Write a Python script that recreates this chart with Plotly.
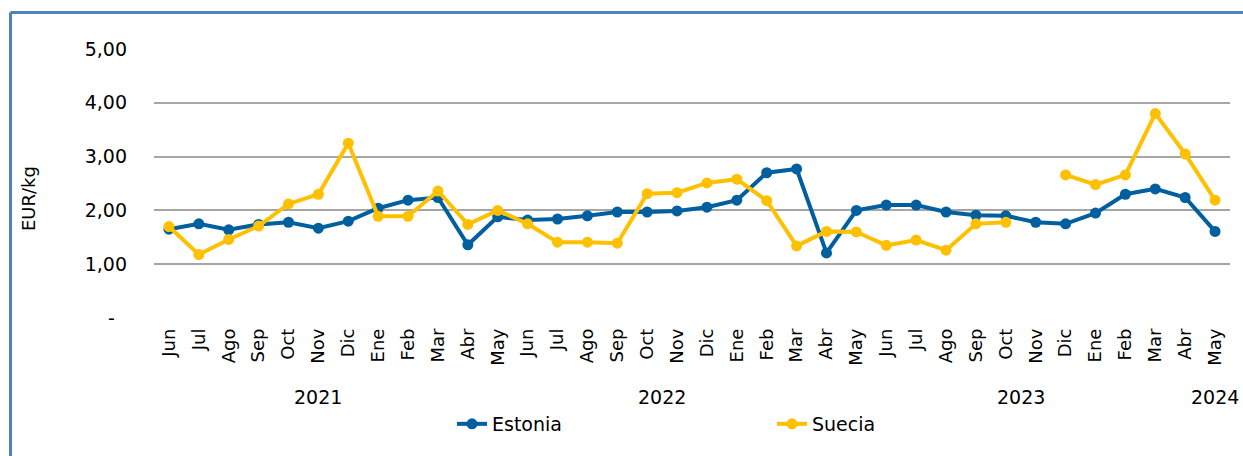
import plotly.graph_objects as go

# Monthly prices, Jun 2021 - May 2024 (EUR/kg)
months = ["Jun", "Jul", "Ago", "Sep", "Oct", "Nov", "Dic",
          "Ene", "Feb", "Mar", "Abr", "May", "Jun", "Jul", "Ago", "Sep", "Oct", "Nov", "Dic",
          "Ene", "Feb", "Mar", "Abr", "May", "Jun", "Jul", "Ago", "Sep", "Oct", "Nov", "Dic",
          "Ene", "Feb", "Mar", "Abr", "May"]

estonia = [1.65, 1.75, 1.64, 1.74, 1.78, 1.67, 1.80,
           2.04, 2.19, 2.24, 1.36, 1.88, 1.82, 1.84, 1.90, 1.97, 1.97, 1.99, 2.06,
           2.19, 2.70, 2.77, 1.21, 2.00, 2.10, 2.10, 1.97, 1.91, 1.90, 1.78, 1.75,
           1.95, 2.30, 2.40, 2.24, 1.61]

suecia = [1.70, 1.18, 1.46, 1.71, 2.12, 2.30, 3.25,
          1.89, 1.89, 2.36, 1.74, 2.00, 1.75, 1.41, 1.41, 1.39, 2.31, 2.33, 2.51,
          2.58, 2.18, 1.34, 1.61, 1.60, 1.35, 1.45, 1.26, 1.75, 1.78, None, 2.66,
          2.48, 2.66, 3.80, 3.05, 2.19]

# Year group labels and the category position they sit under
year_labels = ["2021", "2022", "2023", "2024"]
year_positions = [5, 16.5, 28.5, 35]

y_tickvals = [0, 1, 2, 3, 4, 5]
y_ticktext = ["-\u00a0\u00a0", "1,00", "2,00", "3,00", "4,00", "5,00"]

BLUE = "#005F9E"
YELLOW = "#FFC000"
FONT = "DejaVu Sans"

W, H = 1243, 456
ML, MR, MT, MB = 154, 13, 49, 138
pw, ph = W - ML - MR, H - MT - MB

def px_x(p):
    return (p - ML) / pw

def px_y(p):
    return (H - MB - p) / ph

x = list(range(len(months)))

fig = go.Figure()
fig.add_trace(go.Scatter(
    x=x, y=estonia, name="Estonia", mode="lines+markers",
    line=dict(color=BLUE, width=4), marker=dict(color=BLUE, size=11),
))
fig.add_trace(go.Scatter(
    x=x, y=suecia, name="Suecia", mode="lines+markers", connectgaps=False,
    line=dict(color=YELLOW, width=4), marker=dict(color=YELLOW, size=11),
))

for label, pos in zip(year_labels, year_positions):
    fig.add_annotation(
        x=pos, xref="x", y=px_y(397), yref="paper", text=label,
        showarrow=False, xanchor="center", yanchor="middle",
        font=dict(family=FONT, size=19, color="#000000"),
    )

# Vertical axis caption
fig.add_annotation(
    x=px_x(28), xref="paper", y=px_y(199), yref="paper", text="EUR/kg",
    showarrow=False, textangle=-90, xanchor="center", yanchor="middle",
    font=dict(family=FONT, size=18, color="#000000"),
)

# Outer frame (top and left edges)
fig.add_shape(type="line", xref="paper", yref="paper",
              x0=px_x(10.5), x1=px_x(1250), y0=px_y(12.5), y1=px_y(12.5),
              line=dict(color="#4F81BD", width=3))
fig.add_shape(type="line", xref="paper", yref="paper",
              x0=px_x(10.5), x1=px_x(10.5), y0=px_y(12.5), y1=px_y(470),
              line=dict(color="#4F81BD", width=3))

fig.update_layout(
    width=W, height=H,
    margin=dict(l=ML, r=MR, t=MT, b=MB),
    paper_bgcolor="white", plot_bgcolor="white",
    font=dict(family=FONT, size=18, color="#000000"),
    showlegend=True,
    legend=dict(
        orientation="h", x=px_x(452), xanchor="left", y=px_y(424), yanchor="middle",
        entrywidth=275, entrywidthmode="pixels",
        font=dict(family=FONT, size=19, color="#000000"),
        bgcolor="rgba(0,0,0,0)",
    ),
    xaxis=dict(
        range=[-0.5, len(months) - 0.5],
        tickmode="array", tickvals=x, ticktext=months, tickangle=-90,
        tickfont=dict(family=FONT, size=18, color="#000000"),
        showgrid=False, zeroline=False, showline=False, ticks="",
        ticklabelstandoff=6,
    ),
    yaxis=dict(
        range=[0, 5], tickmode="array", tickvals=y_tickvals, ticktext=y_ticktext,
        tickfont=dict(family=FONT, size=19, color="#000000"),
        showgrid=True, gridcolor="#A6A6A6", gridwidth=1.6,
        zeroline=False, showline=False, ticks="",
        ticklabelstandoff=26,
    ),
)

fig.write_html("out.html")
